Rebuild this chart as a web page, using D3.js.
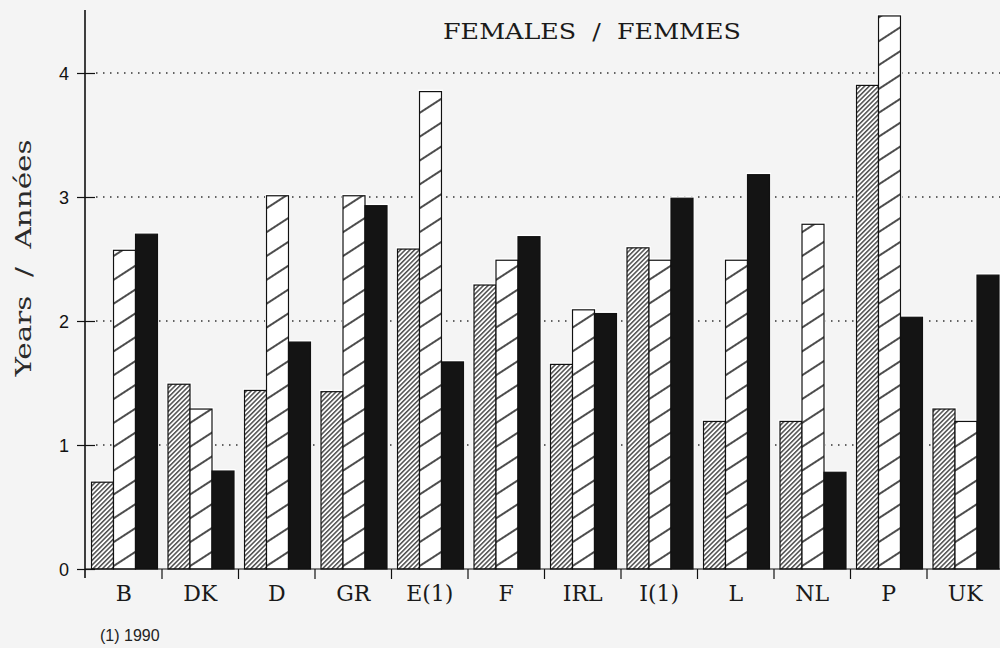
<!DOCTYPE html>
<html><head><meta charset="utf-8">
<script src="https://cdn.jsdelivr.net/npm/d3@7/dist/d3.min.js"></script>
<style>html,body{margin:0;padding:0;background:#f4f4f4;}svg{display:block;}</style>
</head><body>
<svg id="c" width="1000" height="648"></svg>
<script>
const categories = ["B","DK","D","GR","E(1)","F","IRL","I(1)","L","NL","P","UK"];
const seriesNames = ["s1","s2","s3"];
const s1 = [0.70,1.49,1.44,1.43,2.58,2.29,1.65,2.59,1.19,1.19,3.90,1.29];
const s2 = [2.57,1.29,3.01,3.01,3.85,2.49,2.09,2.49,2.49,2.78,4.46,1.19];
const s3 = [2.70,0.79,1.83,2.93,1.67,2.68,2.06,2.99,3.18,0.78,2.03,2.37];
const yTicks = [0,1,2,3,4];
const gridTicks = [1,2,3,4];
const title = "FEMALES  /  FEMMES";
const yTitle = "Years  /  Années";
const footnote = "(1) 1990";

const svg = d3.select("#c");
const defs = svg.append("defs");
// dense hatch
const p1 = defs.append("pattern").attr("id","h1").attr("patternUnits","userSpaceOnUse")
  .attr("width",6).attr("height",3.3).attr("patternTransform","rotate(-45)");
p1.append("rect").attr("width",6).attr("height",3.3).attr("fill","#fff");
p1.append("line").attr("x1",0).attr("x2",6).attr("y1",1.6).attr("y2",1.6).attr("stroke","#000").attr("stroke-width",1.05);
// sparse hatch
const p2 = defs.append("pattern").attr("id","h2").attr("patternUnits","userSpaceOnUse")
  .attr("width",10).attr("height",20).attr("patternTransform","rotate(-33)");
p2.append("rect").attr("width",10).attr("height",20).attr("fill","#fff");
p2.append("line").attr("x1",0).attr("x2",10).attr("y1",10).attr("y2",10).attr("stroke","#000").attr("stroke-width",1.4);

const x0 = d3.scaleBand().domain(categories).range([85.5, 1003.5]).paddingInner(0).paddingOuter(0);
const x1 = d3.scaleBand().domain(seriesNames).range([6, 72]);
const y = d3.scaleLinear().domain([0,4]).range([569, 73]);

// grid lines
svg.append("g").selectAll("line").data(gridTicks).join("line")
  .attr("x1",96).attr("x2",1000).attr("y1",d=>y(d)).attr("y2",d=>y(d))
  .attr("stroke","#333").attr("stroke-width",1.3).attr("stroke-dasharray","1.5,5.5");

// bars
const data = categories.map((c,i)=>({cat:c, vals:[s1[i],s2[i],s3[i]]}));
const fills = ["url(#h1)","url(#h2)","#141414"];
const g = svg.append("g").selectAll("g").data(data).join("g")
  .attr("transform",d=>`translate(${x0(d.cat)},0)`);
g.selectAll("rect.halo").data(d=>d.vals.map((v,j)=>({v,j}))).join("rect").attr("class","halo")
  .attr("x",d=>x1(seriesNames[d.j])-1.5).attr("width",x1.bandwidth()+3)
  .attr("y",d=>y(d.v)-2).attr("height",d=>y(0)-y(d.v)+2).attr("fill","#fff");
g.selectAll("rect.bar").data(d=>d.vals.map((v,j)=>({v,j}))).join("rect").attr("class","bar")
  .attr("x",d=>x1(seriesNames[d.j])).attr("width",x1.bandwidth())
  .attr("y",d=>y(d.v)).attr("height",d=>y(0)-y(d.v))
  .attr("fill",d=>fills[d.j]).attr("stroke","#111").attr("stroke-width",1.2);

// x baseline and boundary ticks
svg.append("line").attr("x1",85).attr("x2",1000).attr("y1",y(0)).attr("y2",y(0)).attr("stroke","#111").attr("stroke-width",1.2);
svg.append("g").selectAll("line").data(categories.slice(1)).join("line")
  .attr("x1",d=>x0(d)).attr("x2",d=>x0(d)).attr("y1",y(0)).attr("y2",y(0)+10)
  .attr("stroke","#111").attr("stroke-width",1.2);

// x labels
svg.append("g").selectAll("text").data(categories).join("text")
  .attr("x",d=>x0(d)+x0.bandwidth()/2).attr("y",601)
  .attr("text-anchor","middle").attr("font-family","DejaVu Serif").attr("font-size",22)
  .attr("fill","#1a1a1a").text(d=>d);

// y axis
const yAxis = d3.axisLeft(y).tickValues(yTicks).tickFormat(d3.format("d")).tickSizeInner(8).tickSizeOuter(0).tickPadding(8);
const ya = svg.append("g").attr("transform","translate(85,0)").call(yAxis);
ya.select(".domain").remove();
ya.selectAll(".tick line").attr("stroke","#111").attr("stroke-width",1.2).attr("x2",-8);
ya.selectAll(".tick").append("line").attr("x1",0).attr("x2",10).attr("stroke","#111").attr("stroke-width",1.2);
ya.selectAll(".tick text").attr("font-family","Liberation Sans, Arial").attr("font-size",18).attr("fill","#111").attr("dy","0.34em");
svg.append("line").attr("x1",85).attr("x2",85).attr("y1",10).attr("y2",578).attr("stroke","#111").attr("stroke-width",1.6);

// titles
svg.append("text").attr("x",592).attr("y",39).attr("text-anchor","middle").style("white-space","pre")
  .attr("font-family","DejaVu Serif").attr("font-size",22).attr("fill","#1a1a1a")
  .attr("textLength",298).attr("lengthAdjust","spacingAndGlyphs").text(title);
svg.append("text").attr("transform","translate(31,258) rotate(-90)").attr("text-anchor","middle").style("white-space","pre")
  .attr("font-family","DejaVu Serif").attr("font-size",22).attr("fill","#2a2a2a")
  .attr("textLength",237).attr("lengthAdjust","spacingAndGlyphs").text(yTitle);
svg.append("text").attr("x",100).attr("y",641)
  .attr("font-family","Liberation Sans, Arial").attr("font-size",16).attr("fill","#222").text(footnote);
</script>
</body></html>
